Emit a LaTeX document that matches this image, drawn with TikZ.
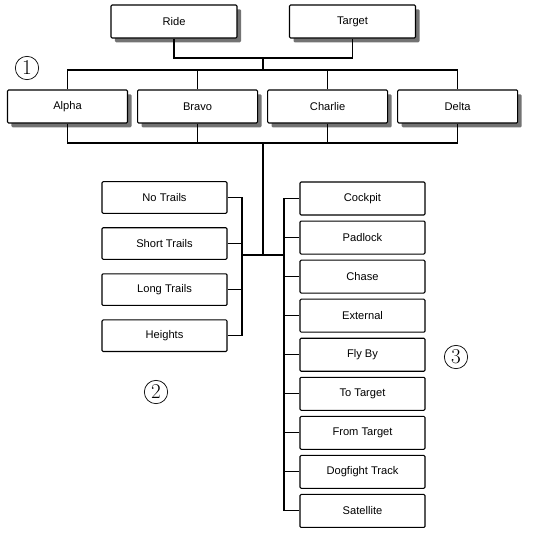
\documentclass[tikz,border=0pt]{standalone}
\usepackage{fontspec}
\newfontfamily\boxfont{Liberation Sans}
\usepackage{tikz}
\usetikzlibrary{shapes,positioning,shadows}

\begin{document}
\begin{tikzpicture}[
            x=0.03cm, y=-0.03cm,
            node distance=0.27cm,
            box/.style={rectangle, draw=black, fill=white, line width=0.9pt, rounded corners=1pt,
                        minimum height=0.99cm, minimum width=3.75cm, align=center,
                        font=\boxfont\fontsize{9.5}{11}\selectfont},
            shadowbox/.style={box, drop shadow={fill=black!55, opacity=1, shadow xshift=0.12cm, shadow yshift=-0.13cm}},
            line/.style={line width=0.9pt, black},
            marker/.style={circle, draw, line width=0.6pt, minimum size=0.7cm, inner sep=0pt,
                        font=\fontsize{18}{18}\selectfont}
        ]
            \useasboundingbox (0,0) rectangle (542,534);

            % Nodes - Row 1
            \node[shadowbox, minimum width=3.78cm] (ride) at (174,21.5) {Ride};
            \node[shadowbox, minimum width=3.78cm] (target) at (352.5,21.5) {Target};

            % Nodes - Row 2
            \node[shadowbox, minimum width=3.6cm] (alpha) at (67.5,106.5) {Alpha};
            \node[shadowbox, minimum width=3.6cm, right=of alpha] (bravo) {Bravo};
            \node[shadowbox, minimum width=3.6cm, right=of bravo] (charlie) {Charlie};
            \node[shadowbox, minimum width=3.6cm, right=of charlie] (delta) {Delta};

            % Nodes - Left column
            \node[box, minimum height=0.95cm] (notrails) at (164.5,197.5) {No Trails};
            \node[box, minimum height=0.95cm, below=0.4cm of notrails] (shorttrails) {Short Trails};
            \node[box, minimum height=0.95cm, below=0.4cm of shorttrails] (longtrails) {Long Trails};
            \node[box, minimum height=0.95cm, below=0.4cm of longtrails] (heights) {Heights};

            % Nodes - Right column
            \node[box] (cockpit) at (362.5,198.5) {Cockpit};
            \node[box, below=0.15cm of cockpit] (padlock) {Padlock};
            \node[box, below=0.15cm of padlock] (chase) {Chase};
            \node[box, below=0.15cm of chase] (external) {External};
            \node[box, below=0.15cm of external] (flyby) {Fly By};
            \node[box, below=0.15cm of flyby] (totarget) {To Target};
            \node[box, below=0.15cm of totarget] (fromtarget) {From Target};
            \node[box, below=0.15cm of fromtarget] (dogfight) {Dogfight Track};
            \node[box, below=0.15cm of dogfight] (satellite) {Satellite};

            % Markers
            \node[marker] (m1) at (27,68) {1};
            \node[marker] (m2) at (156,392) {2};
            \node[marker] (m3) at (456,357) {3};

            % Junctions
            \coordinate (topjoin) at (263,58);
            \coordinate (topbus) at (263,70);
            \coordinate (botbus) at (263,143);
            \coordinate (midjoin) at (263,255);
            \coordinate (leftbus) at (242,255);
            \coordinate (rightbus) at (284,255);

            % Connectors - top
            \draw[line] (ride.south) |- (topjoin) -| (target.south);
            \draw[line] (topjoin) -- (topbus);
            \draw[line] (alpha.north) |- (topbus) -| (delta.north);
            \draw[line] (bravo.north) -- (bravo.north |- topbus);
            \draw[line] (charlie.north) -- (charlie.north |- topbus);

            % Connectors - bottom
            \draw[line] (alpha.south) |- (botbus) -| (delta.south);
            \draw[line] (bravo.south) -- (bravo.south |- botbus);
            \draw[line] (charlie.south) -- (charlie.south |- botbus);
            \draw[line] (botbus) -- (midjoin);

            % Connectors - left column
            \draw[line] (notrails.east) -- (notrails.east -| leftbus) -- (heights.east -| leftbus) -- (heights.east);
            \draw[line] (shorttrails.east) -- (shorttrails.east -| leftbus);
            \draw[line] (longtrails.east) -- (longtrails.east -| leftbus);
            \draw[line] (leftbus) -- (rightbus);

            % Connectors - right column
            \draw[line] (cockpit.west) -- (cockpit.west -| rightbus) -- (satellite.west -| rightbus) -- (satellite.west);
            \draw[line] (padlock.west) -- (padlock.west -| rightbus);
            \draw[line] (chase.west) -- (chase.west -| rightbus);
            \draw[line] (external.west) -- (external.west -| rightbus);
            \draw[line] (flyby.west) -- (flyby.west -| rightbus);
            \draw[line] (totarget.west) -- (totarget.west -| rightbus);
            \draw[line] (fromtarget.west) -- (fromtarget.west -| rightbus);
            \draw[line] (dogfight.west) -- (dogfight.west -| rightbus);
        \end{tikzpicture}
\end{document}
